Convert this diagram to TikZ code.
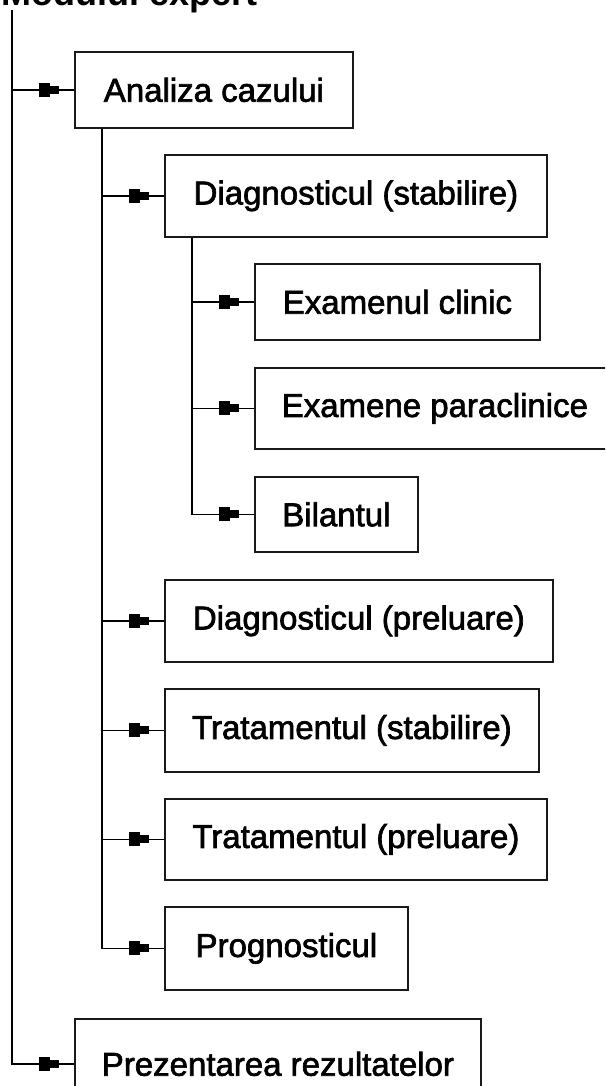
\documentclass[tikz,border=0pt]{standalone}
\usepackage{fontspec}
\setmainfont{Liberation Sans}
\newfontfamily\labelfont[FakeBold=2]{Liberation Sans}
\usetikzlibrary{calc,decorations.markings}
\begin{document}
\begin{tikzpicture}[x=1pt,y=-1pt,
  box/.style={draw=black!90, line width=1.8pt, fill=white, inner sep=0pt,
    anchor=north west, font=\labelfont\fontsize{33}{38}\selectfont},
  conn/.style={draw=black, line width=1.6pt, postaction={decorate},
    decoration={markings, mark=at position -15pt with {%
      \fill[black] (-20pt,-7pt) rectangle (-9pt,7pt);
      \fill[black] (-9pt,-4pt) rectangle (0pt,4pt);}}},
]
\useasboundingbox (0,0) rectangle (605,1086);
\clip (0,0) rectangle (605,1086);

% heading of the tree
\node[anchor=base east, inner sep=0pt, font=\fontsize{36}{40}\selectfont\bfseries]
  (title) at (258,6) {Modulul expert};
\coordinate (root) at (12,10);

% boxes
\node[box, minimum width=278pt, minimum height=76pt] (a) at (74,51) {Analiza cazului};
\node[box, minimum width=382pt, minimum height=82pt] (b) at (164,154) {Diagnosticul (stabilire)};
\node[box, minimum width=285pt, minimum height=76pt] (c) at (254,263) {Examenul clinic};
\node[box, minimum width=360pt, minimum height=81pt] (d) at (254,367) {Examene paraclinice};
\node[box, minimum width=163pt, minimum height=75pt] (e) at (254,476) {Bilantul};
\node[box, minimum width=388pt, minimum height=82pt] (f) at (164,579) {Diagnosticul (preluare)};
\node[box, minimum width=374pt, minimum height=83pt] (g) at (164,688) {Tratamentul (stabilire)};
\node[box, minimum width=382pt, minimum height=81pt] (h) at (164,798) {Tratamentul (preluare)};
\node[box, minimum width=243pt, minimum height=83pt] (i) at (164,906) {Prognosticul};
\node[box, minimum width=406pt, minimum height=90pt] (j) at (74,1018) {Prezentarea rezultatelor};

% connectors
\foreach \t in {a,j}
  \draw[conn] (root) |- (\t.west);
\foreach \t in {b,f,g,h,i}
  \draw[conn] ($(a.south west)+(28,0)$) |- (\t.west);
\foreach \t in {c,d,e}
  \draw[conn] ($(b.south west)+(28,0)$) |- (\t.west);
\end{tikzpicture}
\end{document}
